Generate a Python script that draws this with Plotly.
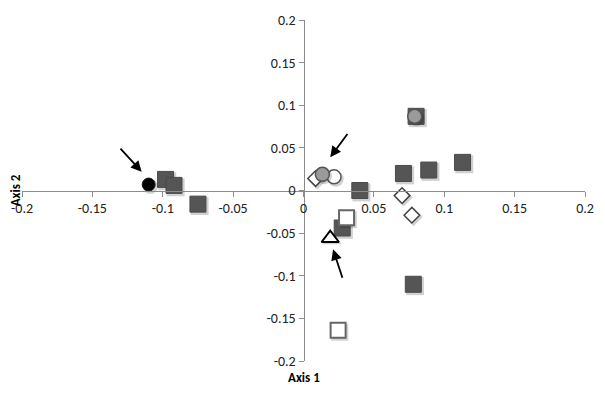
import plotly.graph_objects as go

# Data
dark_sq_x = [-0.098, -0.092, -0.075, 0.040, 0.071, 0.089, 0.113, 0.080, 0.0275, 0.078]
dark_sq_y = [0.013, 0.006, -0.016, 0.000, 0.020, 0.024, 0.033, 0.087, -0.044, -0.110]

black_ci_x = [-0.110]
black_ci_y = [0.007]

gray_ci_x = [0.0134, 0.079]
gray_ci_y = [0.019, 0.087]

white_ci_x = [0.0217]
white_ci_y = [0.016]

white_di_x = [0.0086, 0.070, 0.077]
white_di_y = [0.014, -0.006, -0.029]

white_sq_x = [0.0306, 0.0246]
white_sq_y = [-0.032, -0.164]

white_tri_x = [0.019]
white_tri_y = [-0.056]

x_ticks = [-0.2, -0.15, -0.1, -0.05, 0, 0.05, 0.1, 0.15, 0.2]
y_ticks = [-0.2, -0.15, -0.1, -0.05, 0, 0.05, 0.1, 0.15, 0.2]
tick_text = ["-0.2", "-0.15", "-0.1", "-0.05", "0", "0.05", "0.1", "0.15", "0.2"]

# arrows: (tail x, tail y, head x, head y)
arrows = [(-0.131, 0.051, -0.115, 0.022),
          (0.032, 0.068, 0.019, 0.039),
          (0.028, -0.104, 0.021, -0.069)]

FONT = "Carlito, Lato, sans-serif"
fig = go.Figure()

def shadow(xs, ys, symbol, size):
    fig.add_trace(go.Scatter(
        x=[v + 0.0012 for v in xs], y=[v - 0.0022 for v in ys], mode="markers",
        marker=dict(symbol=symbol, size=size + 2, color="rgba(0,0,0,0.18)",
                    line=dict(width=0)),
        hoverinfo="skip", showlegend=False))

def pts(xs, ys, symbol, size, fill, line, lw=1.5):
    fig.add_trace(go.Scatter(
        x=xs, y=ys, mode="markers",
        marker=dict(symbol=symbol, size=size, color=fill,
                    line=dict(color=line, width=lw)),
        showlegend=False))

shadow(white_di_x, white_di_y, "diamond", 12)
pts(white_di_x, white_di_y, "diamond", 12, "white", "#444444", 1.5)
shadow(dark_sq_x, dark_sq_y, "square", 16)
pts(dark_sq_x, dark_sq_y, "square", 16, "#555555", "#4a4a4a", 1)
shadow(black_ci_x, black_ci_y, "circle", 13)
pts(black_ci_x, black_ci_y, "circle", 13, "#000000", "#222222", 1)
shadow(white_ci_x, white_ci_y, "circle", 14)
pts(white_ci_x, white_ci_y, "circle", 14, "white", "#555555", 1.5)
shadow(gray_ci_x, gray_ci_y, "circle", 14)
pts(gray_ci_x, gray_ci_y, "circle", 14, "#9a9a9a", "#555555", 1.5)
shadow(white_sq_x, white_sq_y, "square", 15)
pts(white_sq_x, white_sq_y, "square", 15, "white", "#666666", 2)
shadow(white_tri_x, white_tri_y, "triangle-up", 15)
pts(white_tri_x, white_tri_y, "triangle-up", 15, "white", "#000000", 2)

for tx, ty, hx, hy in arrows:
    fig.add_annotation(x=hx, y=hy, ax=tx, ay=ty, xref="x", yref="y",
                       axref="x", ayref="y", showarrow=True, arrowhead=2,
                       arrowsize=1.2, arrowwidth=1.8, arrowcolor="#000000", text="")

fig.add_annotation(text="<b>Axis 1</b>", x=0.5, y=-0.047, xref="paper", yref="paper",
                   yanchor="middle", showarrow=False, font=dict(size=13, color="#000", family=FONT))
fig.add_annotation(text="<b>Axis 2</b>", x=-0.011, y=0.5, xref="paper", yref="paper",
                   xanchor="center", textangle=-90, showarrow=False,
                   font=dict(size=13, color="#000", family=FONT))

axis_common = dict(showgrid=False, zeroline=False, showline=True, linecolor="#8c8c8c",
                   linewidth=1, ticks="outside", ticklen=5, tickcolor="#8c8c8c",
                   automargin=False,
                   tickfont=dict(size=14, color="#222", family=FONT))
fig.update_layout(
    width=605, height=395,
    margin=dict(l=14, r=28, t=12, b=42, autoexpand=False),
    paper_bgcolor="white", plot_bgcolor="white",
    xaxis=dict(range=[-0.2, 0.2], tickvals=x_ticks, ticktext=tick_text,
               anchor="free", position=0.5, **axis_common),
    yaxis=dict(range=[-0.2, 0.2], tickvals=y_ticks, ticktext=tick_text,
               anchor="free", position=0.5, **axis_common),
)
fig.write_html("out.html")
